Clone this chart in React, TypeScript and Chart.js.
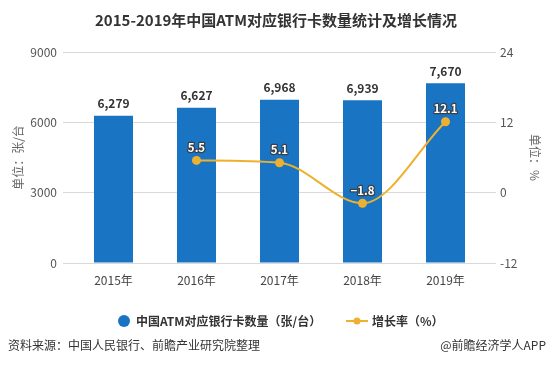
import React, { useEffect, useRef } from "react";
import { Chart, registerables } from "chart.js";

Chart.register(...registerables);

const categories = ["2015年", "2016年", "2017年", "2018年", "2019年"];
const cardCounts = [6279, 6627, 6968, 6939, 7670];
const growthRates: (number | null)[] = [null, 5.5, 5.1, -1.8, 12.1];
const leftTicks = [0, 3000, 6000, 9000];
const rightTicks = [-12, 0, 12, 24];

const FONT = "'Noto Sans CJK SC', 'Noto Sans', sans-serif";
const BAR_COLOR = "#1a74c4";
const LINE_COLOR = "#eeb12f";

const overlayPlugin = {
  id: "overlay",
  afterDatasetsDraw(chart: any) {
    const ctx = chart.ctx;
    ctx.save();
    const barMeta = chart.getDatasetMeta(0);
    ctx.font = `bold 12px ${FONT}`;
    ctx.fillStyle = "#333";
    ctx.textAlign = "center";
    ctx.textBaseline = "middle";
    barMeta.data.forEach((el: any, i: number) => {
      ctx.fillText(cardCounts[i].toLocaleString("en-US"), el.x, el.y - 12);
    });
    const lineMeta = chart.getDatasetMeta(1);
    ctx.font = `bold 11.5px ${FONT}`;
    ctx.lineJoin = "round";
    lineMeta.data.forEach((el: any, i: number) => {
      const v = growthRates[i];
      if (v === null || v === undefined) return;
      const t = v < 0 ? "\u2212" + Math.abs(v).toFixed(1) : v.toFixed(1);
      ctx.strokeStyle = "rgba(60,60,60,0.9)";
      ctx.lineWidth = 2.5;
      ctx.strokeText(t, el.x, el.y - 13);
      ctx.fillStyle = "#fff";
      ctx.fillText(t, el.x, el.y - 13);
    });
    ctx.restore();
  },
  afterDraw(chart: any) {
    const ctx = chart.ctx;
    ctx.save();
    ctx.font = `bold 15px ${FONT}`;
    ctx.fillStyle = "#333";
    ctx.textAlign = "center";
    ctx.textBaseline = "middle";
    ctx.fillText("2015-2019年中国ATM对应银行卡数量统计及增长情况", 276, 20);
    ctx.fillStyle = BAR_COLOR;
    ctx.beginPath();
    ctx.arc(124, 321, 6, 0, Math.PI * 2);
    ctx.fill();
    ctx.font = `bold 12px ${FONT}`;
    ctx.fillStyle = "#333";
    ctx.textAlign = "left";
    ctx.fillText("中国ATM对应银行卡数量（张/台）", 136, 321);
    ctx.strokeStyle = LINE_COLOR;
    ctx.lineWidth = 2;
    ctx.beginPath();
    ctx.moveTo(346, 321);
    ctx.lineTo(368, 321);
    ctx.stroke();
    ctx.fillStyle = LINE_COLOR;
    ctx.beginPath();
    ctx.arc(357, 321, 3.5, 0, Math.PI * 2);
    ctx.fill();
    ctx.fillStyle = "#333";
    ctx.fillText("增长率（%）", 372, 321);
    ctx.font = `12px ${FONT}`;
    ctx.fillStyle = "#333";
    ctx.textAlign = "left";
    ctx.fillText("资料来源：中国人民银行、前瞻产业研究院整理", 8, 345);
    ctx.textAlign = "right";
    ctx.fillText("@前瞻经济学人APP", 546, 345);
    ctx.restore();
  },
};

export default function App() {
  const ref = useRef<HTMLCanvasElement | null>(null);
  useEffect(() => {
    document.body.style.margin = "0";
    const chart = new Chart(ref.current as HTMLCanvasElement, {
      type: "bar",
      data: {
        labels: categories,
        datasets: [
          {
            type: "bar",
            label: "中国ATM对应银行卡数量（张/台）",
            data: cardCounts,
            backgroundColor: BAR_COLOR,
            yAxisID: "y",
            barPercentage: 0.47,
            categoryPercentage: 1,
            order: 2,
          },
          {
            type: "line",
            label: "增长率（%）",
            data: growthRates,
            borderColor: LINE_COLOR,
            backgroundColor: LINE_COLOR,
            borderWidth: 2,
            pointRadius: 4.5,
            pointBackgroundColor: LINE_COLOR,
            pointBorderWidth: 0,
            cubicInterpolationMode: "monotone",
            yAxisID: "y1",
            order: 1,
          } as any,
        ],
      },
      options: {
        animation: false,
        responsive: false,
        layout: { padding: { top: 52, bottom: 77, left: 0, right: 0 } },
        plugins: {
          legend: { display: false },
          title: { display: false },
          tooltip: { enabled: false },
        },
        scales: {
          x: {
            grid: { display: false },
            border: { display: false },
            ticks: { color: "#444", font: { family: FONT, size: 12 }, padding: 2 },
            afterFit(scale: any) {
              scale.height = 25;
            },
          },
          y: {
            position: "left",
            min: 0,
            max: 9000,
            afterBuildTicks(scale: any) {
              scale.ticks = leftTicks.map((v) => ({ value: v }));
            },
            grid: { color: "#d9d9d9", tickLength: 9 },
            border: { display: false },
            ticks: {
              color: "#555",
              font: { family: FONT, size: 12 },
              padding: 6,
              callback: (v: any) => String(v),
            },
            title: {
              display: true,
              text: "单位：张/台",
              color: "#666",
              font: { family: FONT, size: 12 },
              padding: { top: 11, bottom: 0 },
            },
            afterFit(scale: any) {
              scale.width = 72;
            },
          },
          y1: {
            position: "right",
            min: -12,
            max: 24,
            afterBuildTicks(scale: any) {
              scale.ticks = rightTicks.map((v) => ({ value: v }));
            },
            grid: { drawOnChartArea: false, color: "#d9d9d9", tickLength: 9 },
            border: { display: false },
            ticks: {
              color: "#555",
              font: { family: FONT, size: 12 },
              padding: 4,
              callback: (v: any) => String(v),
            },
            title: {
              display: true,
              text: "单位：%",
              color: "#666",
              font: { family: FONT, size: 12 },
              padding: { top: 10, bottom: 0 },
            },
            afterFit(scale: any) {
              scale.width = 65;
            },
          },
        },
      },
      plugins: [overlayPlugin],
    });
    return () => chart.destroy();
  }, []);
  return <canvas ref={ref} width={552} height={365} style={{ display: "block" }} />;
}
